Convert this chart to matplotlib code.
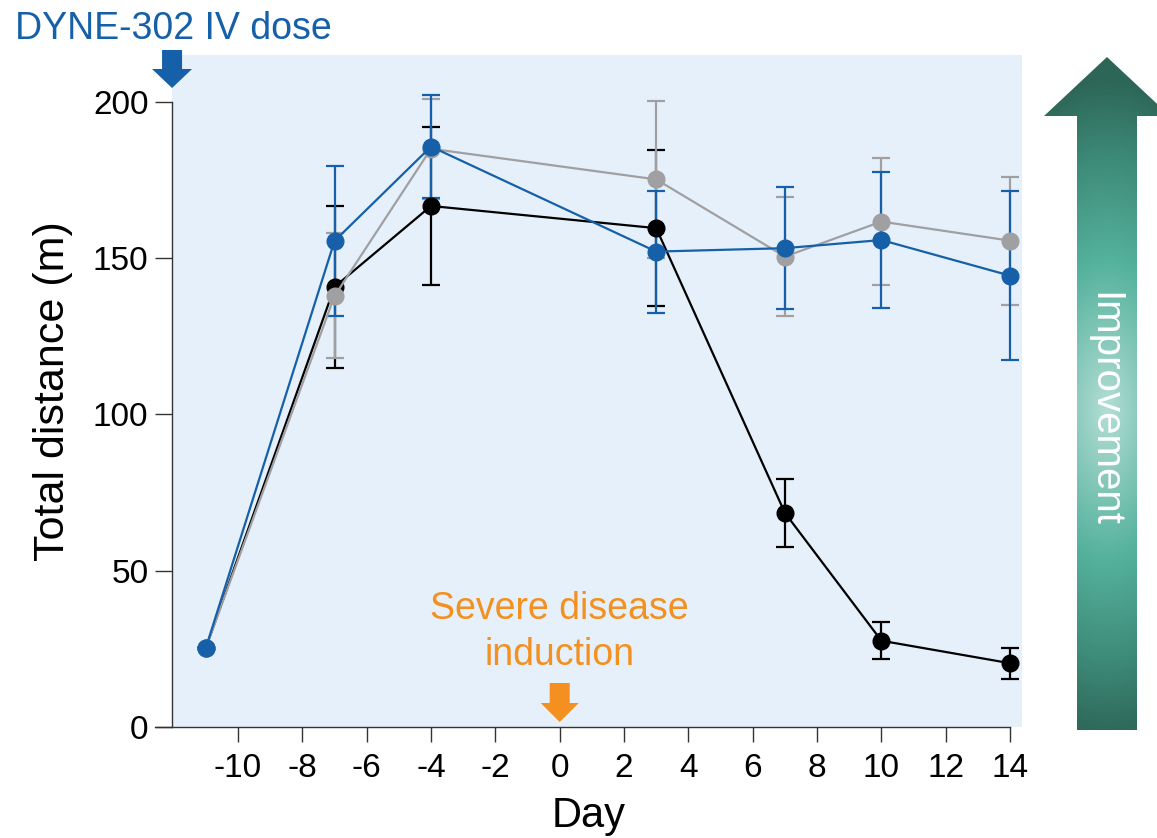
import numpy as np
import matplotlib
matplotlib.use("Agg")
import matplotlib.pyplot as plt
from matplotlib.patches import Polygon, Rectangle
from matplotlib.colors import LinearSegmentedColormap

plt.rcParams['font.family'] = ['Liberation Sans', 'DejaVu Sans']

# data
days = [-11, -7, -4, 3, 7, 10, 14]

grey_mean = [25.3, 137.9, 185.0, 175.2, 150.5, 161.7, 155.6]
grey_err = [0, 20, 16, 25, 19, 20.3, 20.5]

black_mean = [25.3, 140.8, 166.7, 159.6, 68.5, 27.6, 20.4]
black_err = [0, 26, 25.4, 25, 11, 6, 5]

blue_mean = [25.3, 155.5, 185.7, 152.1, 153.2, 155.8, 144.4]
blue_err = [0, 24, 16.5, 19.5, 19.5, 21.7, 27]

x_ticks = [-10, -8, -6, -4, -2, 0, 2, 4, 6, 8, 10, 12, 14]
y_ticks = [0, 50, 100, 150, 200]

BLUE = '#1560A8'
GREY = '#A0A0A3'
BLACK = '#000000'
ORANGE = '#F39020'
BG = '#E6F0FA'

W, H = 1157, 838
fig = plt.figure(figsize=(W / 100, H / 100), dpi=100)
ax = fig.add_axes([155 / W, 1 - 727 / H, (1022 - 155) / W, (727 - 55) / H])
ax.set_facecolor('none')

x0, x1 = -12.58, 14.37
y_top = 215
left_x = -12.05
ax.set_xlim(x0, x1)
ax.set_ylim(0, y_top)

# light blue plot area
ax.add_patch(Rectangle((left_x, 0), x1 - left_x, y_top, facecolor=BG,
                       edgecolor='none', zorder=0))

for mean, err, col in [(black_mean, black_err, BLACK),
                       (grey_mean, grey_err, GREY),
                       (blue_mean, blue_err, BLUE)]:
    ax.errorbar(days, mean, yerr=err, color=col, lw=1.6, marker='o',
                markersize=12, capsize=6.5, capthick=1.6, elinewidth=1.6,
                zorder=3)

for s in ['top', 'right']:
    ax.spines[s].set_visible(False)
ax.spines['left'].set_position(('data', left_x))
ax.spines['left'].set_bounds(0, 200)
ax.spines['bottom'].set_bounds(x0, 14)
for s in ['left', 'bottom']:
    ax.spines[s].set_linewidth(1.0)
    ax.spines[s].set_color('#333333')

ax.set_xticks(x_ticks)
ax.set_xticklabels([str(t) for t in x_ticks])
ax.set_yticks(y_ticks)
ax.tick_params(axis='x', length=11, width=1, labelsize=24, pad=8, color='#333333')
ax.tick_params(axis='y', length=12, width=1, labelsize=24, pad=5, color='#333333')

ax.set_xlabel('Day', fontsize=30, labelpad=8)
ax.set_ylabel('Total distance (m)', fontsize=31, labelpad=14)

ppx = (x1 - x0) / (1022 - 155)   # days per pixel
ppy = y_top / (727 - 55)         # units per pixel


def down_arrow(xc, y_start, y_neck, y_tip, shaft_hw, head_hw, color):
    pts = [(xc - shaft_hw, y_start), (xc + shaft_hw, y_start),
           (xc + shaft_hw, y_neck), (xc + head_hw, y_neck),
           (xc, y_tip), (xc - head_hw, y_neck), (xc - shaft_hw, y_neck)]
    ax.add_patch(Polygon(pts, closed=True, facecolor=color, edgecolor='none',
                         clip_on=False, zorder=5))


# dose arrow (blue) at top of y axis, induction arrow (orange) at day 0
down_arrow(left_x, (727 - 50) * ppy, (727 - 69) * ppy, (727 - 88) * ppy,
           10 * ppx, 20 * ppx, BLUE)
down_arrow(0, (727 - 683) * ppy, (727 - 703) * ppy, (727 - 722) * ppy,
           10 * ppx, 19 * ppx, ORANGE)

fig.text(15 / W, 1 - 29 / H, 'DYNE-302 IV dose', color=BLUE, fontsize=27,
         ha='left', va='center')
ax.text(0, (727 - 632) * ppy, 'Severe disease\ninduction', color=ORANGE,
        fontsize=27, ha='center', va='center', linespacing=1.35, zorder=4)

# improvement arrow with gradient
ov = fig.add_axes([0, 0, 1, 1])
ov.set_xlim(0, W)
ov.set_ylim(H, 0)
ov.axis('off')
ov.patch.set_visible(False)

arrow_pts = [(1107, 57), (1170, 116), (1137, 116), (1137, 730),
             (1077, 730), (1077, 116), (1044, 116)]
poly = Polygon(arrow_pts, closed=True, facecolor='none', edgecolor='none')
ov.add_patch(poly)

gx = np.linspace(1040, 1170, 140)
gy = np.linspace(50, 735, 700)
GX, GY = np.meshgrid(gx, gy)
d = np.sqrt(((GY - 410) / 330) ** 2 + ((GX - 1107) / 160) ** 2)
d = np.clip(d, 0, 1)
cmap = LinearSegmentedColormap.from_list(
    'imp', [(0, '#B4DED5'), (0.45, '#55B29D'), (0.75, '#3E8C7A'), (1, '#2D6657')])
im = ov.imshow(d, cmap=cmap, vmin=0, vmax=1, extent=(1040, 1170, 735, 50),
               aspect='auto', interpolation='bilinear')
im.set_clip_path(poly)
ov.set_xlim(0, W)
ov.set_ylim(H, 0)

ov.text(1104, 409, 'Improvement', color='white', fontsize=29, rotation=-90,
        ha='center', va='center')

fig.savefig('out.png', dpi=100)
